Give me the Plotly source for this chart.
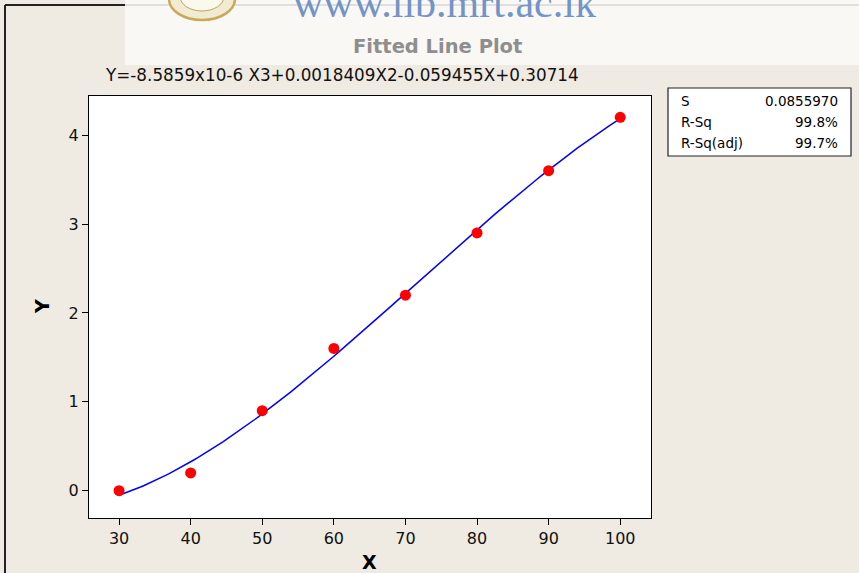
import numpy as np
import plotly.graph_objects as go

# Observed data
x_obs = [30, 40, 50, 60, 70, 80, 90, 100]
y_obs = [0.0, 0.2, 0.9, 1.6, 2.2, 2.9, 3.6, 4.2]

# Cubic regression coefficients (highest power first)
coef = [-8.5859e-6, 0.0018409, -0.059455, 0.30714]
equation = "Y=-8.5859x10-6 X3+0.0018409X2-0.059455X+0.30714"

stat_names = ["S", "R-Sq", "R-Sq(adj)"]
stat_values = ["0.0855970", "99.8%", "99.7%"]

x_ticks = [30, 40, 50, 60, 70, 80, 90, 100]
y_ticks = [0, 1, 2, 3, 4]

W, H = 859, 573
L, R, T, B = 89, 651, 96, 518  # plot box in pixels


def px(x):
    return (x - L) / (R - L)


def py(y):
    return (B - y) / (B - T)


x_fit = np.linspace(min(x_obs), max(x_obs), 141)
y_fit = np.polyval(coef, x_fit)

FONT = "DejaVu Sans"
BEIGE = "#EFEBE2"

fig = go.Figure()
fig.add_trace(go.Scatter(x=x_fit, y=y_fit, mode="lines",
                         line=dict(color="#0000FF", width=1.5),
                         hoverinfo="skip", showlegend=False))
fig.add_trace(go.Scatter(x=x_obs, y=y_obs, mode="markers",
                         marker=dict(color="#FF0000", size=11),
                         showlegend=False))

shapes = [
    # outer frame
    dict(type="line", xref="paper", yref="paper", x0=px(5), x1=px(5),
         y0=py(5), y1=py(580), line=dict(color="#222222", width=2)),
    dict(type="line", xref="paper", yref="paper", x0=px(5), x1=px(870),
         y0=py(5), y1=py(5), line=dict(color="#222222", width=2)),
    # pale header band
    dict(type="rect", xref="paper", yref="paper", x0=px(125), x1=px(870),
         y0=py(-5), y1=py(65), fillcolor="rgba(250,249,246,0.88)",
         line=dict(width=0)),
    # seal emblem
    dict(type="circle", xref="paper", yref="paper", x0=px(169), x1=px(235),
         y0=py(-22), y1=py(20), fillcolor="#F2EBD3",
         line=dict(color="#C9A957", width=2.5)),
    dict(type="circle", xref="paper", yref="paper", x0=px(180), x1=px(224),
         y0=py(-18), y1=py(11), fillcolor="#FBF8EE",
         line=dict(color="#BFA35A", width=1)),
    # statistics box
    dict(type="rect", xref="paper", yref="paper", x0=px(668), x1=px(851),
         y0=py(88), y1=py(156), fillcolor="white",
         line=dict(color="#222222", width=1.2)),
]

ann = [
    dict(text="www.lib.mrt.ac.lk", x=px(444), y=py(19), xanchor="center",
         yanchor="bottom", yshift=-9,
         font=dict(family="Liberation Serif", size=42, color="#7394C6")),
    dict(text="<b>Fitted Line Plot</b>", x=px(437), y=py(46), xanchor="center",
         yanchor="middle", font=dict(family=FONT, size=19.5, color="#8E8E8E")),
    dict(text=equation, x=px(103), y=py(75), xanchor="left", yanchor="middle",
         font=dict(family=FONT, size=16.8, color="#111111")),
    dict(text="<b>Y</b>", x=px(42), y=py(307), xanchor="center", yanchor="middle",
         textangle=-90, font=dict(family=FONT, size=19, color="black")),
    dict(text="<b>X</b>", x=px(369), y=py(562), xanchor="center", yanchor="middle",
         font=dict(family=FONT, size=19, color="black")),
]
for i, (n, v) in enumerate(zip(stat_names, stat_values)):
    yy = 101 + 21 * i
    ann.append(dict(text=n, x=px(679), y=py(yy), xanchor="left", yanchor="middle",
                    font=dict(family=FONT, size=13.5, color="black")))
    ann.append(dict(text=v, x=px(840), y=py(yy), xanchor="right", yanchor="middle",
                    font=dict(family=FONT, size=13.5, color="black")))
for a in ann:
    a.update(xref="paper", yref="paper", showarrow=False)

fig.update_layout(
    width=W, height=H,
    margin=dict(l=L, r=W - R, t=T, b=H - B),
    paper_bgcolor=BEIGE, plot_bgcolor="white",
    font=dict(family=FONT, size=16, color="#111111"),
    shapes=shapes, annotations=ann,
    xaxis=dict(range=[25.8, 104.3], tickvals=x_ticks, ticks="outside",
               ticklen=6, tickcolor="black", showgrid=False, zeroline=False,
               showline=True, linecolor="black", linewidth=1.2, mirror=True,
               tickfont=dict(size=16)),
    yaxis=dict(range=[-0.307, 4.44], tickvals=y_ticks, ticks="outside",
               ticklen=6, tickcolor="black", showgrid=False, zeroline=False,
               showline=True, linecolor="black", linewidth=1.2, mirror=True,
               tickfont=dict(size=16)),
)

fig.write_html("out.html")
